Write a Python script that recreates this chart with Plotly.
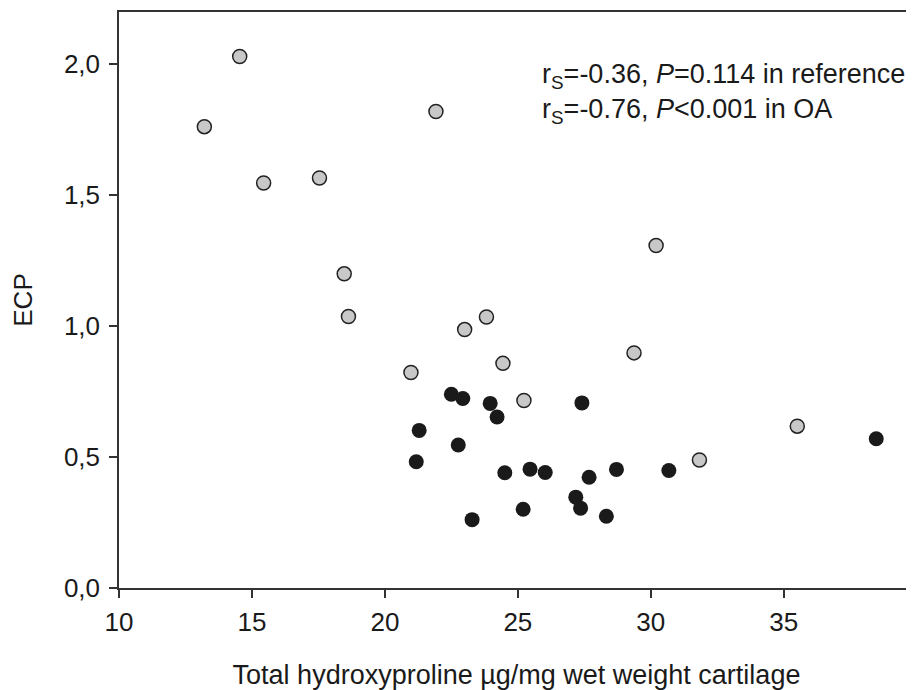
import plotly.graph_objects as go

# Reference group (grey circles)
ref_x = [13.21, 14.54, 15.44, 17.54, 18.47, 18.63, 21.92, 20.98, 23.00, 23.82,
         24.44, 25.23, 30.20, 29.37, 31.83, 35.51]
ref_y = [1.762, 2.030, 1.547, 1.566, 1.200, 1.037, 1.820, 0.823, 0.987, 1.035,
         0.858, 0.716, 1.308, 0.898, 0.489, 0.618]

# OA group (black circles)
oa_x = [21.29, 21.18, 22.50, 22.93, 22.76, 23.96, 24.22, 24.51, 25.46, 26.03,
        23.28, 25.20, 27.41, 27.18, 27.36, 27.68, 28.71, 28.33, 30.68, 38.48]
oa_y = [0.602, 0.482, 0.740, 0.724, 0.546, 0.705, 0.653, 0.440, 0.454, 0.441,
        0.261, 0.301, 0.707, 0.347, 0.305, 0.423, 0.453, 0.274, 0.449, 0.570]

x_ticks = [10, 15, 20, 25, 30, 35]
y_ticks = [0.0, 0.5, 1.0, 1.5, 2.0]

x_title = "Total hydroxyproline µg/mg wet weight cartilage"
y_title = "ECP"
stats_text = ("r<sub>S</sub>=-0.36, <i>P</i>=0.114 in reference<br>"
              "r<sub>S</sub>=-0.76, <i>P</i>&lt;0.001 in OA")

FONT = "Liberation Sans, Arial, sans-serif"
AX = "#333333"
TXT = "#1a1a1a"

fig = go.Figure()
fig.add_trace(go.Scatter(
    x=oa_x, y=oa_y, mode="markers", name="OA",
    marker=dict(size=15, color="#1a1a1a", line=dict(width=0)),
    cliponaxis=False,
))
fig.add_trace(go.Scatter(
    x=ref_x, y=ref_y, mode="markers", name="reference",
    marker=dict(size=14, color="#c8c8c8", line=dict(width=1.5, color="#222222")),
    cliponaxis=False,
))

fig.add_annotation(
    x=25.85, y=2.03, xref="x", yref="y", xanchor="left", yanchor="top",
    text=stats_text, showarrow=False, align="left",
    font=dict(family=FONT, size=27, color=TXT),
)

# page body adds an 8px offset, so the figure is sized 906x682
fig.update_layout(
    width=906, height=682,
    margin=dict(l=111, r=0, t=4, b=95),
    paper_bgcolor="white", plot_bgcolor="white",
    showlegend=False,
    separators=",.",
    font=dict(family=FONT, size=26, color=TXT),
    xaxis=dict(
        range=[10, 39.9], tickvals=x_ticks, ticks="outside", ticklen=8,
        tickwidth=1.5, tickcolor=AX, showline=True, linecolor=AX, linewidth=1.5,
        mirror=True, showgrid=False, zeroline=False,
        tickfont=dict(size=26), ticklabelstandoff=2,
        title=dict(text=x_title, standoff=34, font=dict(size=27)),
    ),
    yaxis=dict(
        range=[0, 2.2], tickvals=y_ticks, tickformat=".1f", ticks="outside",
        ticklen=8, tickwidth=1.5, tickcolor=AX, showline=True, linecolor=AX,
        linewidth=1.5, showgrid=False, zeroline=False,
        tickfont=dict(size=26), ticklabelstandoff=4,
        title=dict(text=y_title, standoff=34, font=dict(size=26)),
    ),
)

fig.write_html("out.html")
